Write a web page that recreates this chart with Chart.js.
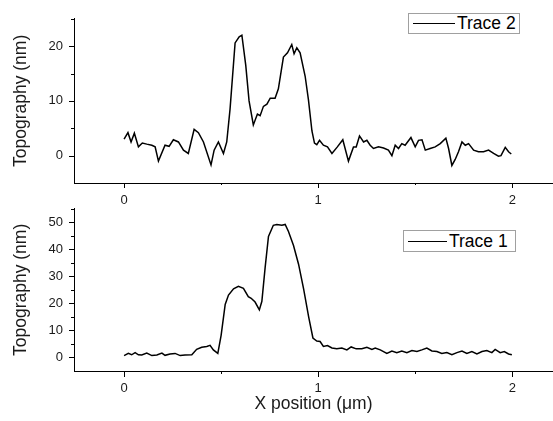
<!DOCTYPE html>
<html>
<head>
<meta charset="utf-8">
<script src="https://cdn.jsdelivr.net/npm/chart.js@4.4.0/dist/chart.umd.min.js"></script>
<style>
  html, body { margin: 0; padding: 0; background: #fff; }
  #wrap { position: relative; width: 553px; height: 421px; overflow: hidden; font-family: 'Liberation Sans', Arial, sans-serif; }
  #wrap canvas { position: absolute; left: 0; }
  #topChart { top: 0; }
  #bottomChart { top: 190px; }
  .legend { position: absolute; box-sizing: border-box; border: 1px solid #a0a0a0; background: #fff;
            font-size: 17.5px; color: #000; display: flex; align-items: center; white-space: nowrap; }
  .legend i { display: inline-block; border-top: 1.5px solid #000; margin: 0 2px 0 4px; }
</style>
</head>
<body>
<div id="wrap">
  <canvas id="topChart" width="553" height="215"></canvas>
  <canvas id="bottomChart" width="553" height="231"></canvas>
  <div class="legend" id="topLegend" style="left:408px;top:13px;width:112px;height:21px;"></div>
  <div class="legend" id="bottomLegend" style="left:403px;top:230px;width:113px;height:22px;"></div>
</div>
<script>
// Trace 2 (upper panel): x in µm, topography in nm
const trace2X = [0.000, 0.020, 0.036, 0.053, 0.074, 0.094, 0.117, 0.143, 0.160, 0.177, 0.211, 0.232, 0.254, 0.280,
  0.306, 0.331, 0.361, 0.383, 0.409, 0.448, 0.464, 0.486, 0.512, 0.529, 0.546, 0.572, 0.593, 0.607, 0.627, 0.644,
  0.666, 0.687, 0.701, 0.718, 0.736, 0.753, 0.778, 0.795, 0.821, 0.842, 0.864, 0.876, 0.890, 0.907, 0.933, 0.950,
  0.968, 0.981, 0.993, 1.007, 1.027, 1.048, 1.071, 1.099, 1.127, 1.156, 1.182, 1.196, 1.213, 1.234, 1.251, 1.268,
  1.285, 1.311, 1.337, 1.362, 1.380, 1.397, 1.414, 1.431, 1.448, 1.478, 1.500, 1.517, 1.535, 1.552, 1.577, 1.603,
  1.629, 1.658, 1.672, 1.689, 1.706, 1.723, 1.741, 1.758, 1.775, 1.801, 1.826, 1.852, 1.878, 1.904, 1.929, 1.942,
  1.964, 1.981, 1.995];
const trace2Y = [3.0, 4.2, 2.5, 4.1, 1.6, 2.3, 2.1, 1.9, 1.6, -1.0, 1.9, 1.7, 2.9, 2.5,
  1.0, 0.4, 4.8, 4.2, 2.5, -1.7, 1.0, 2.5, 0.4, 2.5, 8.5, 20.6, 21.7, 22.0, 16.5, 10.0,
  5.6, 7.6, 7.3, 9.0, 9.4, 10.5, 10.5, 12.2, 18.0, 18.8, 20.3, 18.6, 19.7, 18.8, 14.5, 10.2,
  4.5, 2.3, 2.0, 2.8, 1.9, 1.6, 0.4, 1.6, 2.9, -1.0, 1.6, 1.6, 3.6, 2.5, 2.8, 1.9,
  1.3, 1.6, 1.4, 1.0, 0.0, 1.9, 1.3, 2.2, 1.9, 3.3, 1.6, 2.8, 2.9, 1.0, 1.3, 1.6,
  2.2, 3.2, 1.3, -1.8, -0.7, 0.7, 2.5, 1.9, 2.2, 1.0, 0.7, 0.7, 1.0, 0.4, -0.1, 0.0,
  1.5, 0.7, 0.3];

// Trace 1 (lower panel)
const trace1X = [0.000, 0.022, 0.039, 0.057, 0.074, 0.091, 0.117, 0.143, 0.169, 0.195, 0.211, 0.237, 0.263, 0.289,
  0.314, 0.349, 0.374, 0.400, 0.426, 0.443, 0.460, 0.483, 0.500, 0.521, 0.538, 0.564, 0.589, 0.615, 0.640, 0.655,
  0.675, 0.697, 0.710, 0.727, 0.744, 0.769, 0.787, 0.813, 0.830, 0.847, 0.873, 0.899, 0.925, 0.951, 0.973, 0.993,
  1.010, 1.027, 1.048, 1.071, 1.096, 1.122, 1.148, 1.170, 1.196, 1.225, 1.251, 1.277, 1.294, 1.320, 1.354, 1.380,
  1.405, 1.431, 1.457, 1.483, 1.509, 1.534, 1.560, 1.586, 1.612, 1.637, 1.663, 1.689, 1.715, 1.741, 1.766, 1.792,
  1.818, 1.844, 1.869, 1.895, 1.912, 1.938, 1.959, 1.981, 1.998];
const trace1Y = [0.7, 1.5, 1.0, 1.8, 1.0, 0.9, 1.6, 0.7, 0.9, 1.6, 0.8, 1.3, 1.5, 0.7,
  0.9, 1.0, 3.0, 3.8, 4.1, 4.5, 2.8, 1.5, 8.2, 19.6, 23.1, 25.4, 26.3, 25.6, 22.5, 21.9,
  20.5, 17.6, 20.8, 33.4, 44.8, 48.9, 49.2, 48.9, 49.2, 46.6, 41.4, 34.5, 25.4, 15.0, 7.2, 6.1,
  5.9, 4.1, 4.4, 3.5, 3.2, 3.5, 2.8, 3.9, 3.2, 3.2, 3.8, 3.0, 3.5, 2.8, 1.5, 2.4,
  1.8, 2.4, 1.8, 2.6, 2.2, 2.8, 3.5, 2.4, 2.2, 1.5, 1.8, 1.0, 1.8, 2.4, 1.5, 2.2,
  1.3, 2.2, 2.6, 1.8, 3.0, 1.8, 2.2, 1.3, 1.0];

// axis ranges and tick values
const xRange = [-0.258, 2.21];
const xMajorTicks = [0, 1, 2];
const xMinorTicks = [0.5, 1.5];
const topYRange = [-5, 25];
const topYMajorTicks = [0, 10, 20];
const topYMinorTicks = [5, 15, 25];
const bottomYRange = [-5, 55];
const bottomYMajorTicks = [0, 10, 20, 30, 40, 50];
const bottomYMinorTicks = [5, 15, 25, 35, 45, 55];

const FONT = "'Liberation Sans', Arial, sans-serif";

// draws outward tick marks (major + minor) using the chart's own scales
const tickMarks = {
  id: 'tickMarks',
  afterDraw(chart, args, opts) {
    const { ctx, scales: { x, y } } = chart;
    ctx.save();
    ctx.strokeStyle = '#000';
    ctx.lineWidth = 1;
    ctx.beginPath();
    const xTick = (v, len) => {
      const px = Math.round(x.getPixelForValue(v)) + 0.5;
      ctx.moveTo(px, x.top);
      ctx.lineTo(px, x.top + len);
    };
    const yTick = (v, len) => {
      const py = Math.round(y.getPixelForValue(v)) + 0.5;
      ctx.moveTo(y.right, py);
      ctx.lineTo(y.right - len, py);
    };
    opts.xMajor.forEach(v => xTick(v, opts.xMajorLen));
    opts.xMinor.forEach(v => xTick(v, opts.xMinorLen));
    opts.yMajor.forEach(v => yTick(v, 5));
    opts.yMinor.forEach(v => yTick(v, 3));
    ctx.stroke();
    ctx.restore();
  }
};

function makePanel(canvasId, cfg) {
  const points = cfg.xs.map((xv, i) => ({ x: xv, y: cfg.ys[i] }));
  return new Chart(document.getElementById(canvasId), {
    type: 'line',
    data: {
      datasets: [{
        label: cfg.label,
        data: points,
        borderColor: '#000',
        borderWidth: 1.5,
        pointRadius: 0,
        tension: 0,
        fill: false
      }]
    },
    options: {
      responsive: false,
      animation: false,
      devicePixelRatio: 1,
      layout: { padding: { top: cfg.padTop, left: 0, right: 0, bottom: 0 } },
      plugins: {
        legend: { display: false },
        tooltip: { enabled: false },
        tickMarks: {
          xMajor: xMajorTicks, xMinor: xMinorTicks,
          yMajor: cfg.yMajor, yMinor: cfg.yMinor,
          xMajorLen: cfg.xMajorLen, xMinorLen: cfg.xMinorLen
        }
      },
      scales: {
        x: {
          type: 'linear',
          min: xRange[0],
          max: xRange[1],
          afterBuildTicks: scale => { scale.ticks = xMajorTicks.map(v => ({ value: v })); },
          afterFit: scale => { scale.height = cfg.xHeight; },
          grid: { display: false, drawTicks: false },
          border: { display: true, color: '#000', width: 1 },
          ticks: { padding: 10, color: '#1a1a1a', font: { family: FONT, size: 13 }, maxRotation: 0,
                   callback: v => String(v) },
          title: cfg.xTitle ? { display: true, text: cfg.xTitle, color: '#1a1a1a',
                   font: { family: FONT, size: 17.5 }, padding: { top: 0, bottom: 6 } } : { display: false }
        },
        y: {
          type: 'linear',
          min: cfg.yRange[0],
          max: cfg.yRange[1],
          afterBuildTicks: scale => { scale.ticks = cfg.yMajor.map(v => ({ value: v })); },
          afterFit: scale => { scale.width = 74; },
          grid: { display: false, drawTicks: false },
          border: { display: true, color: '#000', width: 1 },
          ticks: { padding: 11, color: '#1a1a1a', font: { family: FONT, size: 13 }, callback: v => String(v) },
          title: { display: true, text: 'Topography (nm)', color: '#1a1a1a',
                   font: { family: FONT, size: 17.5 }, padding: { top: 11, bottom: 0 } }
        }
      }
    },
    plugins: [tickMarks]
  });
}

function renderLegend(id, label, sampleWidth) {
  const el = document.getElementById(id);
  el.innerHTML = `<i style="width:${sampleWidth}px"></i><span>${label}</span>`;
}

makePanel('topChart', {
  label: 'Trace 2', xs: trace2X, ys: trace2Y, yRange: topYRange,
  yMajor: topYMajorTicks, yMinor: topYMinorTicks,
  padTop: 8, xHeight: 32, xMajorLen: 5, xMinorLen: 2, xTitle: null
});
makePanel('bottomChart', {
  label: 'Trace 1', xs: trace1X, ys: trace1Y, yRange: bottomYRange,
  yMajor: bottomYMajorTicks, yMinor: bottomYMinorTicks,
  padTop: 7, xHeight: 50, xMajorLen: 6, xMinorLen: 3, xTitle: 'X position (\u03bcm)'
});
renderLegend('topLegend', 'Trace 2', 42);
renderLegend('bottomLegend', 'Trace 1', 39);
</script>
</body>
</html>
